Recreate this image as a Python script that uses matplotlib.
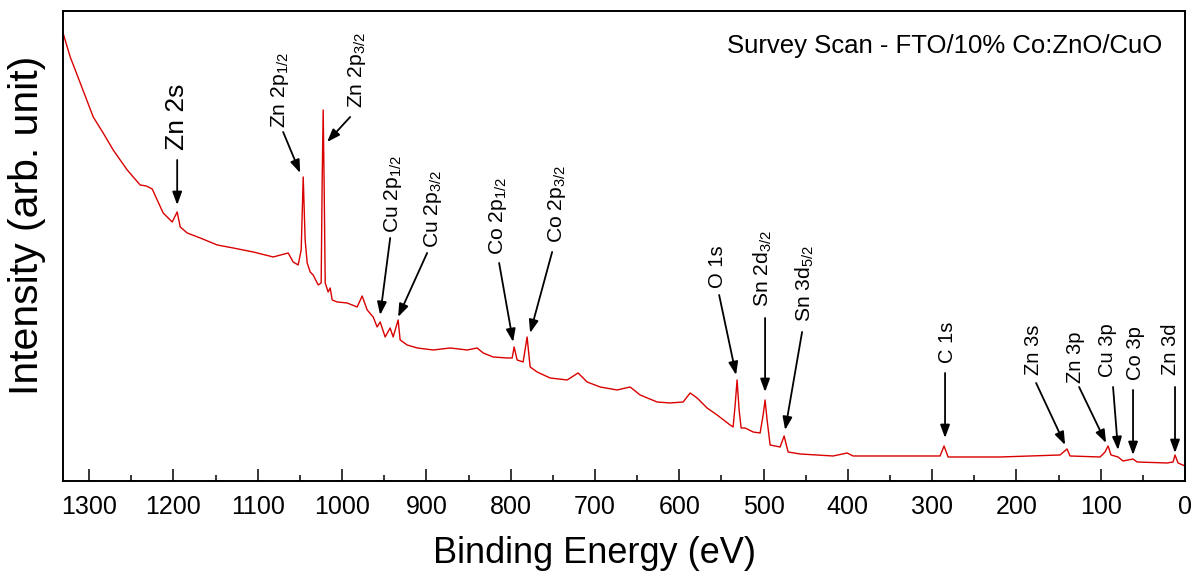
import matplotlib
matplotlib.use("Agg")
import matplotlib.pyplot as plt
from matplotlib.ticker import MultipleLocator

plt.rcParams['font.family'] = ['Liberation Sans', 'DejaVu Sans']
plt.rcParams['mathtext.fontset'] = 'custom'
plt.rcParams['mathtext.rm'] = 'Liberation Sans'
plt.rcParams['mathtext.it'] = 'Liberation Sans:italic'

# ---- data (binding energy eV, intensity arb. units) ----
binding_energy = [
    1331, 1322.5, 1310.6, 1295.2, 1283.4, 1271.5, 1254.9, 1239.5, 1232.3, 1225.2,
    1219.3, 1212.2, 1201.5, 1195.6, 1192.0, 1183.7, 1168.3, 1148.1, 1129.2, 1105.4,
    1081.7, 1063.9, 1058.0, 1052.1, 1048.5, 1046.1, 1043.8, 1041.4, 1037.8, 1034.3,
    1028.3, 1024.8, 1023.6, 1022.4, 1021.2, 1020.0, 1016.5, 1014.1, 1011.7, 1005.8,
    994.0, 982.1, 976.2, 970.2, 963.1, 958.4, 954.8, 948.9, 943.0, 939.4,
    933.5, 931.1, 922.8, 910.9, 891.9, 871.8, 851.6, 839.8, 832.6, 820.8,
    804.2, 798.2, 795.9, 792.3, 785.2, 780.5, 776.9, 768.6, 753.2, 733.0,
    720.0, 709.3, 693.9, 673.7, 658.3, 646.4, 626.3, 610.8, 595.4, 587.1,
    578.8, 567.0, 555.1, 539.7, 536.1, 533.7, 531.4, 529.0, 526.6, 521.9,
    512.4, 504.1, 500.5, 498.2, 495.8, 492.2, 480.4, 475.6, 470.9, 456.7,
    417.5, 400.9, 393.8, 338.0, 290.6, 285.9, 281.1, 219.4, 148.3, 140.0,
    136.4, 100.8, 94.9, 91.3, 87.8, 79.5, 73.5, 61.7, 56.9, 21.3,
    14.2, 11.9, 8.3, 0.0,
]
intensity = [
    448, 424, 398, 364, 348, 331, 311, 296, 295, 292,
    281, 268, 259, 269, 254, 248, 243, 236, 233, 229,
    224, 228, 219, 216, 231, 304, 241, 218, 209, 206,
    196, 198, 301, 371, 291, 198, 189, 193, 181, 179,
    178, 174, 185, 171, 164, 154, 159, 144, 153, 144,
    161, 141, 136, 133, 131, 133, 131, 133, 128, 124,
    123, 123, 134, 121, 119, 144, 114, 109, 103, 101,
    108, 99, 94, 91, 94, 86, 79, 78, 79, 88,
    83, 73, 66, 56, 54, 76, 101, 71, 53, 53,
    49, 48, 66, 81, 61, 36, 34, 45, 29, 27,
    25, 28, 25, 25, 25, 35, 24, 24, 26, 32,
    25, 24, 29, 35, 26, 24, 20, 22, 19, 18,
    19, 26, 18, 15,
]

# ---- peak annotations ----
peak_labels = [
    "Zn 2s", r"Zn 2p$_{\mathregular{1/2}}$", r"Zn 2p$_{\mathregular{3/2}}$",
    r"Cu 2p$_{\mathregular{1/2}}$", r"Cu 2p$_{\mathregular{3/2}}$",
    r"Co 2p$_{\mathregular{1/2}}$", r"Co 2p$_{\mathregular{3/2}}$",
    "O 1s", r"Sn 2d$_{\mathregular{3/2}}$", r"Sn 3d$_{\mathregular{5/2}}$",
    "C 1s", "Zn 3s", "Zn 3p", "Cu 3p", "Co 3p", "Zn 3d",
]
label_x = [1195.6, 1073.4, 982.1, 939.4, 891.9, 814.9, 744.9, 555.1, 500.5, 450.7,
           282.3, 180.3, 130.5, 92.5, 59.3, 17.8]
label_y = [331, 353, 373, 248, 233, 226, 238, 193, 174, 159,
           118, 106, 98, 104, 101, 106]
arrow_from_x = [1195.6, 1069.9, 990.4, 942.9, 899.1, 813.7, 750.8, 552.7, 498.2, 454.3,
                284.7, 176.7, 125.7, 85.4, 61.7, 11.9]
arrow_from_y = [321, 349, 364, 243, 228, 218, 229, 186, 163, 149,
                108, 98, 94, 94, 91, 94]
arrow_to_x = [1195.6, 1049.7, 1017.7, 954.8, 933.5, 797.1, 776.9, 532.6, 498.2, 474.4,
              284.7, 142.3, 93.7, 79.5, 61.7, 11.9]
arrow_to_y = [276, 308, 339, 166, 164, 139, 148, 106, 89, 51,
              43, 36, 38, 31, 26, 28]
label_sizes = [19, 15.2, 15.2, 15.2, 15.2, 15.2, 15.2, 14.5, 15.2, 15.2,
               14.5, 14.5, 14.5, 14.5, 14.5, 14.5]

title_text = "Survey Scan - FTO/10% Co:ZnO/CuO"
x_label = "Binding Energy (eV)"
y_label = "Intensity (arb. unit)"

# ---- figure ----
fig = plt.figure(figsize=(11.94, 5.77), dpi=100)
ax = fig.add_axes([0.0528, 0.1664, 0.9397, 0.8146])

ax.plot(binding_energy, intensity, color='#d90000', lw=1.0)

for lab, tx, ty, fx, fy, ex, ey, fs in zip(peak_labels, label_x, label_y,
                                           arrow_from_x, arrow_from_y,
                                           arrow_to_x, arrow_to_y, label_sizes):
    ax.annotate('', xy=(ex, ey), xytext=(fx, fy),
                arrowprops=dict(arrowstyle='-|>,head_length=0.6,head_width=0.22',
                                color='black', lw=1.3,
                                mutation_scale=13, shrinkA=0, shrinkB=0))
    ax.text(tx, ty, lab, rotation=90, ha='center', va='bottom', fontsize=fs)

ax.text(0.980, 0.9255, title_text, transform=ax.transAxes, ha='right', va='center',
        fontsize=18.5)

ax.set_xlim(1331, 0)
ax.set_ylim(0, 470)
ax.xaxis.set_major_locator(MultipleLocator(100))
ax.xaxis.set_minor_locator(MultipleLocator(50))
ax.tick_params(axis='x', which='major', direction='in', length=8.5, width=1.1,
               labelsize=18, pad=10, top=False)
ax.tick_params(axis='x', which='minor', direction='in', length=4.5, width=1.1, top=False)
ax.set_yticks([])
for s in ax.spines.values():
    s.set_linewidth(1.4)

ax.set_xlabel(x_label, fontsize=26)
ax.xaxis.set_label_coords(0.474, -0.118)
ax.set_ylabel(y_label, fontsize=29.5)
ax.yaxis.set_label_coords(-0.0152, 0.543)

fig.savefig("out.png", dpi=100)
